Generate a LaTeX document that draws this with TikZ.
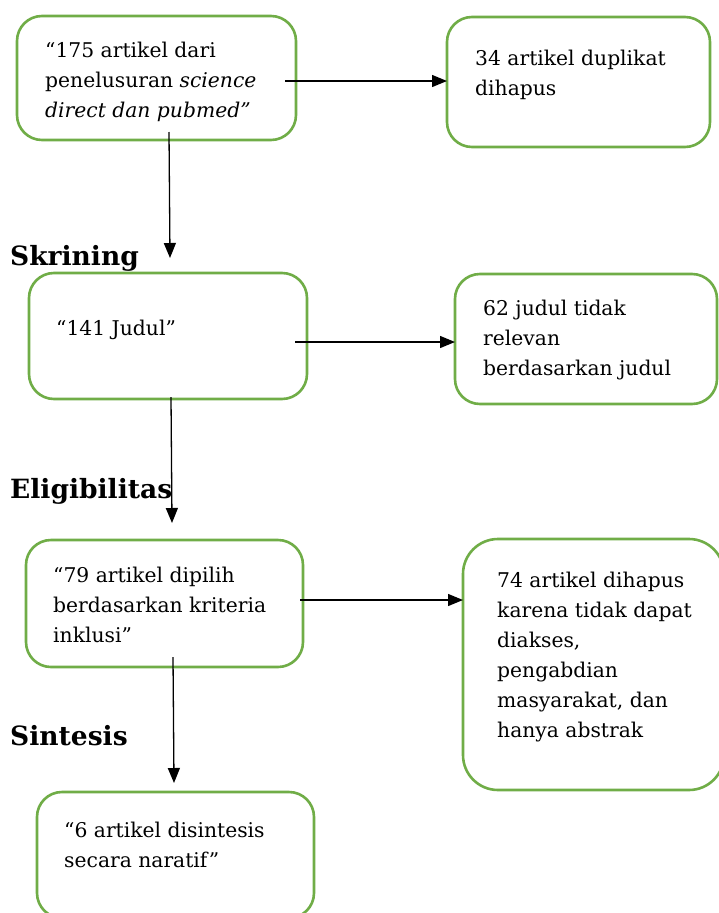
\documentclass[tikz,border=0pt]{standalone}
\usepackage{fontspec}
\setmainfont{DejaVu Serif}
\usetikzlibrary{arrows.meta}
\definecolor{boxgreen}{RGB}{112,173,71}
\tikzset{
  box/.style={draw=boxgreen, line width=2.6pt, rounded corners=25pt, inner sep=0pt, outer sep=0pt},
  txt/.style={anchor=base west, align=left, inner sep=0pt, font=\fontsize{20.3}{30}\selectfont},
  stage/.style={anchor=base west, inner sep=0pt, font=\fontsize{26.5}{30}\selectfont\bfseries},
  arr/.style={line width=1.3pt, -{Triangle[length=15pt,width=12pt]}}
}
\begin{document}
\begin{tikzpicture}[x=1pt,y=-1pt]
\useasboundingbox (0,0) rectangle (719,913);
\clip (0,0) rectangle (719,913);
\fill[white] (0,0) rectangle (719,913);
\node[box, minimum width=279, minimum height=124] (b1) at (156.5,78) {};
\node[box, minimum width=263, minimum height=130] (b2) at (578.5,82) {};
\node[box, minimum width=278, minimum height=126] (b3) at (168,336) {};
\node[box, minimum width=262, minimum height=130] (b4) at (586,339) {};
\node[box, minimum width=277, minimum height=127] (b5) at (164.5,603.5) {};
\node[box, minimum width=261, minimum height=251, rounded corners=35pt] (b6) at (593.5,664.5) {};
\node[box, minimum width=277, minimum height=126] (b7) at (175.5,855) {};

% texts, placed at the baseline of their last line
\node[txt] (t1) at (45,117) {“175 artikel dari\\penelusuran \textit{science}\\\textit{direct dan pubmed”}};
\node[txt] (t2) at (475,95) {34 artikel duplikat\\dihapus};
\node[txt] (t3) at (56,335) {“141 Judul”};
\node[txt] (t4) at (483,375) {62 judul tidak\\relevan\\berdasarkan judul};
\node[txt] (t5) at (53,642) {“79 artikel dipilih\\berdasarkan kriteria\\inklusi”};
\node[txt] (t6) at (497,737) {74 artikel dihapus\\karena tidak dapat\\diakses,\\pengabdian\\masyarakat, dan\\hanya abstrak};
\node[txt] (t7) at (64,867) {“6 artikel disintesis\\secara naratif”};

\node[stage] (s1) at (10,265) {Skrining};
\node[stage] (s2) at (10,498) {Eligibilitas};
\node[stage] (s3) at (10,745) {Sintesis};

% arrow ends
\coordinate (h1) at (285,81);
\coordinate (h2) at (295,342);
\coordinate (h3) at (300,600);
\coordinate (v1a) at (169,132);
\coordinate (v1b) at (170,258);
\coordinate (v2a) at (171,397);
\coordinate (v2b) at (172,523);
\coordinate (v3a) at (173,657);
\coordinate (v3b) at (174,783);

\draw[arr] (h1) -- (h1 -| b2.west);
\draw[arr] (h2) -- (h2 -| b4.west);
\draw[arr] (h3) -- (h3 -| b6.west);
\draw[arr] (v1a) -- (v1b);
\draw[arr] (v2a) -- (v2b);
\draw[arr] (v3a) -- (v3b);
\end{tikzpicture}
\end{document}
